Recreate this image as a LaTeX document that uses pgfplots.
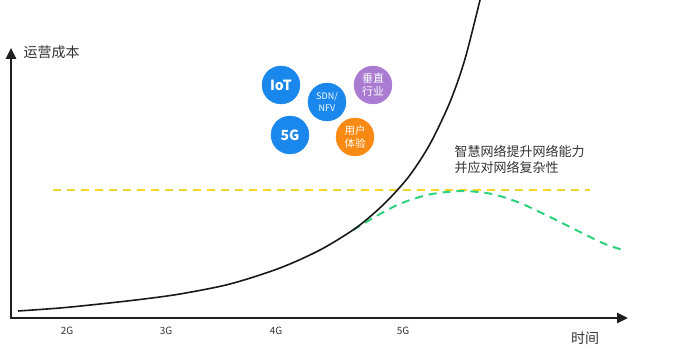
\documentclass[border=0pt]{standalone}
\usepackage{pgfplots}
\pgfplotsset{compat=1.18}
\usepackage{fontspec}
\setmainfont{Noto Sans CJK SC}
\usetikzlibrary{arrows.meta}
\definecolor{cblue}{HTML}{1A87EC}
\definecolor{cpurple}{HTML}{A97CD2}
\definecolor{corange}{HTML}{FB8A14}
\definecolor{cyellow}{HTML}{F6D42A}
\definecolor{cgreen}{HTML}{2FD27C}
\definecolor{ctext}{HTML}{333333}
\pgfplotsset{
  bubble/.style={only marks, mark=*, mark size=19, color=#1, mark options={draw=#1, fill=#1},
    nodes near coords, point meta=explicit symbolic,
    every node near coord/.append style={anchor=center, text=white, align=center}},
}
\begin{document}
\begin{tikzpicture}
\begin{axis}[
  scale only axis, width=689pt, height=353pt,
  xmin=0, xmax=689, ymin=0, ymax=353,
  hide axis, clip=true,
]
\path (axis cs:0,0) rectangle (axis cs:689,353);
% axes
\draw[line width=2.6pt, color=black!88, -{Triangle[length=11pt,width=10pt]}] (axis cs:11,35) -- (axis cs:11,305);
\draw[line width=2.6pt, color=black!88, -{Triangle[length=11pt,width=10pt]}] (axis cs:10,35) -- (axis cs:628,35);
% yellow dashed
\addplot[cyellow, line width=2pt, dash pattern=on 8pt off 6pt] coordinates {(53,163) (590,163)};
% green dashed
\addplot[cgreen, line width=2pt, dash pattern=on 8pt off 6pt, smooth] coordinates {
(353,123) (373,135) (393,146) (410,153) (432,159) (462,162) (492,159) (520,150) (550,136) (580,121) (605,109) (623,103)};
% black curve
\addplot[black!90, line width=1.6pt, smooth] coordinates {
(18,42) (60,45) (100,49) (140,53.5) (180,59) (230,69) (280,85) (320,103) (353,123) (372,138) (390,155) (410,178) (430,209) (450,251) (465,294) (480,353)};
% circles
\addplot[bubble=cblue, every node near coord/.append style={font=\fontsize{14}{14}\selectfont\bfseries}] coordinates {(281,268)[IoT] (290,218)[5G]};
\addplot[bubble=cblue, every node near coord/.append style={font=\fontsize{9}{12}\selectfont}] coordinates {(327,251)[{SDN/\\NFV}]};
\addplot[bubble=cpurple, every node near coord/.append style={font=\fontsize{11}{13}\selectfont}] coordinates {(373,268)[{垂直\\行业}]};
\addplot[bubble=corange, every node near coord/.append style={font=\fontsize{10.5}{13}\selectfont}] coordinates {(355,216)[{用户\\体验}]};
% text
\node[ctext, anchor=west, font=\fontsize{14}{15}\selectfont] at (axis cs:20,301) {运营成本};
\node[ctext, font=\fontsize{14}{15}\selectfont] at (axis cs:585,15) {时间};
\node[ctext, anchor=west, font=\fontsize{13}{16}\selectfont, align=left] at (axis cs:451,193) {智慧网络提升网络能力\\并应对网络复杂性};
\node[ctext, font=\fontsize{10}{10}\selectfont] at (axis cs:67,22) {2G};
\node[ctext, font=\fontsize{10}{10}\selectfont] at (axis cs:166,22) {3G};
\node[ctext, font=\fontsize{10}{10}\selectfont] at (axis cs:276,22) {4G};
\node[ctext, font=\fontsize{10}{10}\selectfont] at (axis cs:403,22) {5G};
\end{axis}
\end{tikzpicture}
\end{document}
